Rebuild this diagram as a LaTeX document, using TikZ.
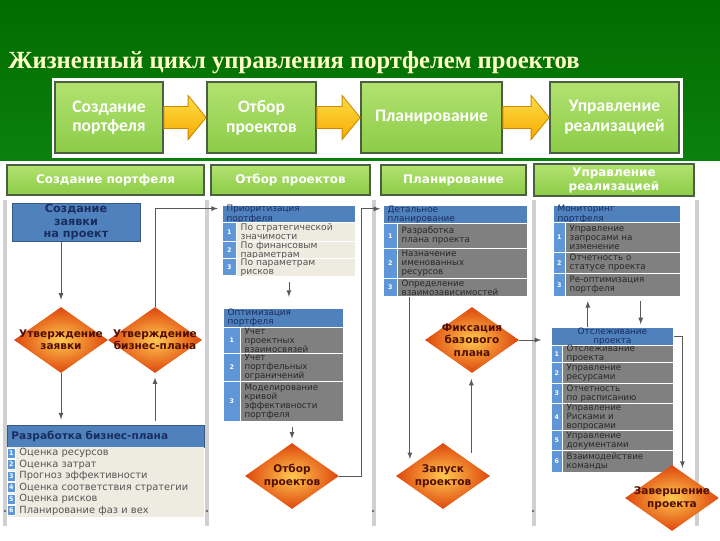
\documentclass[tikz,border=0pt]{standalone}
\usepackage{fontspec}
\setmainfont{Liberation Serif}
\setsansfont{DejaVu Sans}
\newfontfamily\boxfont{Carlito}
\usepackage{tikz}
\usetikzlibrary{arrows, shapes.geometric, calc, positioning}

\definecolor{bandgreen}{RGB}{12,128,12}
\definecolor{bandgreendark}{RGB}{0,108,0}
\definecolor{titleyellow}{RGB}{255,255,200}
\definecolor{boxgreen}{RGB}{140,204,72}
\definecolor{boxgreenlight}{RGB}{178,226,112}
\definecolor{boxedge}{RGB}{75,95,65}
\definecolor{arrowtop}{RGB}{255,222,70}
\definecolor{arrowbot}{RGB}{245,170,0}
\definecolor{arrowedge}{RGB}{205,135,0}
\definecolor{hdrblue}{RGB}{79,129,189}
\definecolor{numblue}{RGB}{95,150,215}
\definecolor{navy}{RGB}{25,45,95}
\definecolor{beige}{RGB}{238,236,225}
\definecolor{itemgray}{RGB}{128,128,128}
\definecolor{itemtext}{RGB}{40,40,40}
\definecolor{liteitemtext}{RGB}{85,85,85}
\definecolor{diamin}{RGB}{255,200,80}
\definecolor{diamout}{RGB}{222,70,12}
\definecolor{diatext}{RGB}{80,15,0}
\definecolor{lanegray}{RGB}{208,208,208}

\tikzset{
  wh/.style 2 args={minimum width=#1*0.025cm, minimum height=#2*0.025cm},
  cell/.style 2 args={anchor=north west, inner ysep=0pt, inner xsep=3pt, wh={#1}{#2},
    /utils/exec={\pgfmathsetlengthmacro\cellw{#1*0.025cm-6pt}}, text width=\cellw},
  greenbox/.style={draw=boxedge, line width=1.2pt, top color=boxgreenlight,
    bottom color=boxgreen, text=white, align=center, inner sep=0pt},
  topbox/.style={greenbox, font=\boxfont\bfseries\fontsize{12.5}{14}\selectfont},
  lanehead/.style={greenbox, font=\sffamily\bfseries\fontsize{8.5}{10}\selectfont},
  bluebox/.style={fill=hdrblue, draw=hdrblue!70!black, line width=0.4pt, text=navy},
  hdr/.style={fill=hdrblue, draw=white, line width=0.6pt, text=navy, align=left,
    font=\sffamily\fontsize{6.3}{6.5}\selectfont},
  numcell/.style={fill=numblue, draw=white, line width=0.6pt, text=white, inner sep=0pt,
    anchor=north west, font=\sffamily\bfseries\fontsize{4.5}{5}\selectfont},
  liteitem/.style={fill=beige, draw=white, line width=0.6pt, text=liteitemtext, align=left,
    font=\sffamily\fontsize{6.5}{6.5}\selectfont},
  darkitem/.style={fill=itemgray, draw=white, line width=0.6pt, text=itemtext, align=left,
    font=\sffamily\fontsize{6.2}{6.4}\selectfont},
  plainitem/.style={text=liteitemtext, align=left, font=\sffamily\fontsize{7}{8}\selectfont},
  decision/.style={diamond, aspect=1.42, wh={94}{66}, inner sep=0pt,
    inner color=diamin, outer color=diamout},
  dlabel/.style={font=\sffamily\bfseries\fontsize{7.5}{8.8}\selectfont, text=diatext, align=center},
  flow/.style={draw=black!65, line width=0.6pt, -latex},
  yarrow/.style={top color=arrowtop, bottom color=arrowbot, draw=arrowedge, line width=0.6pt},
  lanesep/.style={draw=lanegray, line width=2.2pt}
}

\begin{document}
\begin{tikzpicture}[x=0.025cm, y=-0.025cm]
\useasboundingbox (0,0) rectangle (720,540);
\fill[white] (0,0) rectangle (720,540);
\shade[top color=bandgreendark, bottom color=bandgreen] (0,0) rectangle (720,160);
\fill[white] (52,78) rectangle (683,158);

\node[anchor=base west, inner sep=0pt, text=titleyellow,
  font=\rmfamily\bfseries\fontsize{17.5}{20}\selectfont] (title) at (8,68)
  {Жизненный цикл управления портфелем проектов};

% stages
\node[topbox, wh={108}{71}] (tb1) at (109,117.5) {Создание\\портфеля};
\node[topbox, wh={109}{71}] (tb2) at (261.5,117.5) {Отбор\\проектов};
\node[topbox, wh={141}{71}] (tb3) at (431.5,117.5) {Планирование};
\node[topbox, wh={129}{71}] (tb4) at (614.5,117.5) {Управление\\реализацией};
\foreach \a/\b in {tb1/tb2, tb2/tb3, tb3/tb4}
  \draw[yarrow] ($(\a.east)+(0,-11)$) -- ($(\b.west)+(-18,-11)$) -- ($(\b.west)+(-18,-22)$)
    -- (\b.west) -- ($(\b.west)+(-18,22)$) -- ($(\b.west)+(-18,11)$) -- ($(\a.east)+(0,11)$) -- cycle;

% lanes
\foreach \x in {5,207,374,534,697}
  \draw[lanesep] (\x,200) -- (\x,526);
\foreach \x in {5,207,373,533}
  \fill[black!70] (\x,511) circle (0.8pt);
\node[lanehead, wh={197}{30}] (lh1) at (105.5,180) {Создание портфеля};
\node[lanehead, wh={159}{30}] (lh2) at (290.5,180) {Отбор проектов};
\node[lanehead, wh={145}{30}] (lh3) at (453.5,180) {Планирование};
\node[lanehead, wh={160}{32}] (lh4) at (614,180) {Управление\\реализацией};

% lane 1
\node[bluebox, wh={128}{38}, align=center, inner sep=0pt,
  font=\sffamily\bfseries\fontsize{8}{8.6}\selectfont] (zay) at (76,222) {Создание\\заявки\\на проект};
\node[decision, label={[dlabel, name=d1t]center:{Утверждение\\заявки}}] (d1) at (61,340) {};
\node[decision, label={[dlabel, name=d2t]center:{Утверждение\\бизнес-плана}}] (d2) at (155,340) {};
\node[bluebox, cell={197}{22}, font=\sffamily\bfseries\fontsize{7.5}{9}\selectfont] (bph) at (7,425)
  {Разработка бизнес-плана};
\node[fill=beige, cell={197}{70}] (bpb) at (7,447) {};
\foreach \n/\t [evaluate=\n as \yy using 447+(\n-1)*11.5] in {1/Оценка ресурсов, 2/Оценка затрат,
    3/Прогноз эффективности, 4/Оценка соответствия стратегии, 5/Оценка рисков, 6/Планирование фаз и вех} {
  \node[numcell, wh={8}{10}] (bpn\n) at (7,\yy+0.7) {\n};
  \node[plainitem, cell={189}{11.5}] (bp\n) at (15,\yy) {\t};
}

% lane 2
\node[hdr, cell={133}{17}] (prh) at (222,205) {Приоритизация\\портфеля};
\foreach \n/\y/\h/\t in {1/222/19/{По стратегической\\значимости}, 2/241/17/{По финансовым\\параметрам},
    3/258/17/{По параметрам\\рисков}} {
  \node[numcell, wh={14}{\h}] (prn\n) at (222,\y) {\n};
  \node[liteitem, cell={119}{\h}] (pr\n) at (236,\y) {\t};
}
\node[hdr, cell={120}{19}] (oph) at (223,308) {Оптимизация\\портфеля};
\foreach \n/\y/\h/\t in {1/327/26/{Учет\\проектных\\взаимосвязей}, 2/353/28/{Учет\\портфельных\\ограничений},
    3/381/40/{Моделирование\\кривой\\эффективности\\портфеля}} {
  \node[numcell, wh={17}{\h}] (opn\n) at (223,\y) {\n};
  \node[darkitem, cell={103}{\h}] (op\n) at (240,\y) {\t};
}
\node[decision, label={[dlabel, name=d3t]center:{Отбор\\проектов}}] (d3) at (292,476) {};

% lane 3
\node[hdr, cell={144}{18}] (deh) at (383,205) {Детальное\\планирование};
\foreach \n/\y/\h/\t in {1/223/25/{Разработка\\плана проекта}, 2/248/30/{Назначение\\именованных\\ресурсов},
    3/278/18/{Определение\\взаимозависимостей}} {
  \node[numcell, wh={14}{\h}] (den\n) at (383,\y) {\n};
  \node[darkitem, cell={130}{\h}] (de\n) at (397,\y) {\t};
}
\node[decision, label={[dlabel, name=d4t]center:{Фиксация\\базового\\плана}}] (d4) at (472,340) {};
\node[decision, label={[dlabel, name=d5t]center:{Запуск\\проектов}}] (d5) at (443,476) {};

% lane 4
\node[hdr, cell={127}{17}] (moh) at (553,205) {Мониторинг\\портфеля};
\foreach \n/\y/\h/\t in {1/222/30/{Управление\\запросами на\\изменение}, 2/252/21/{Отчетность о\\статусе проекта},
    3/273/23/{Ре-оптимизация\\портфеля}} {
  \node[numcell, wh={12}{\h}] (mon\n) at (553,\y) {\n};
  \node[darkitem, cell={115}{\h}] (mo\n) at (565,\y) {\t};
}
\node[hdr, cell={122}{18}, align=center] (trh) at (551,327) {Отслеживание\\проекта};
\foreach \n/\y/\h/\t in {1/345/17/{Отслеживание\\проекта}, 2/362/21/{Управление\\ресурсами},
    3/383/20/{Отчетность\\по расписанию}, 4/403/27/{Управление\\Рисками и\\вопросами},
    5/430/20/{Управление\\документами}, 6/450/22/{Взаимодействие\\команды}} {
  \node[numcell, wh={11}{\h}] (trn\n) at (551,\y) {\n};
  \node[darkitem, cell={111}{\h}] (tr\n) at (562,\y) {\t};
}
\node[decision, label={[dlabel, name=d6t]center:{Завершение\\проекта}}] (d6) at (672,498) {};

% connectors
\coordinate (d5in) at ($(d5.west)!0.3!(d5.north)$);
\coordinate (d5out) at ($(d5.east)!0.4!(d5.north)$);
\coordinate (trup) at ($(trh.north west)!0.3!(trh.north east)$);
\coordinate (trdn) at ($(trh.north west)!0.73!(trh.north east)$);
\coordinate (d6in) at ($(d6.north)!0.22!(d6.east)$);
\draw[flow, shorten >=5pt] (zay.south -| d1.north) -- (d1.north);
\draw[flow, shorten >=4pt] (d1.south) -- (d1.south |- bph.north);
\draw[flow, shorten <=3pt, shorten >=3pt] (d2.south |- bph.north) -- (d2.south);
\draw[flow, shorten >=3pt] (d2.north) |- ([yshift=4pt]prh.west);
\draw[flow, shorten <=4pt, shorten >=8pt] (prh.center |- pr3.south) -- (prh.center |- oph.north);
\draw[flow, shorten <=4pt, shorten >=3pt] (d3.north |- op3.south) -- (d3.north);
\draw[flow, shorten >=2pt] (d3.east) -- ++(22,0) |- ([yshift=4pt]deh.west);
\draw[flow, shorten >=5pt] (de3.south -| d5in) -- (d5in);
\draw[flow, shorten <=7pt, shorten >=4pt] (d5out) -- (d5out |- d4.south);
\draw[flow, shorten >=7pt] (d4.east) -- (d4.east -| trh.west);
\draw[flow, shorten >=3pt] (trup) -- (trup |- mo3.south);
\draw[flow, shorten <=3pt, shorten >=2pt] (trdn |- mo3.south) -- (trdn);
\draw[flow, shorten >=3pt] (trh.east) -| (d6in);
\end{tikzpicture}
\end{document}
